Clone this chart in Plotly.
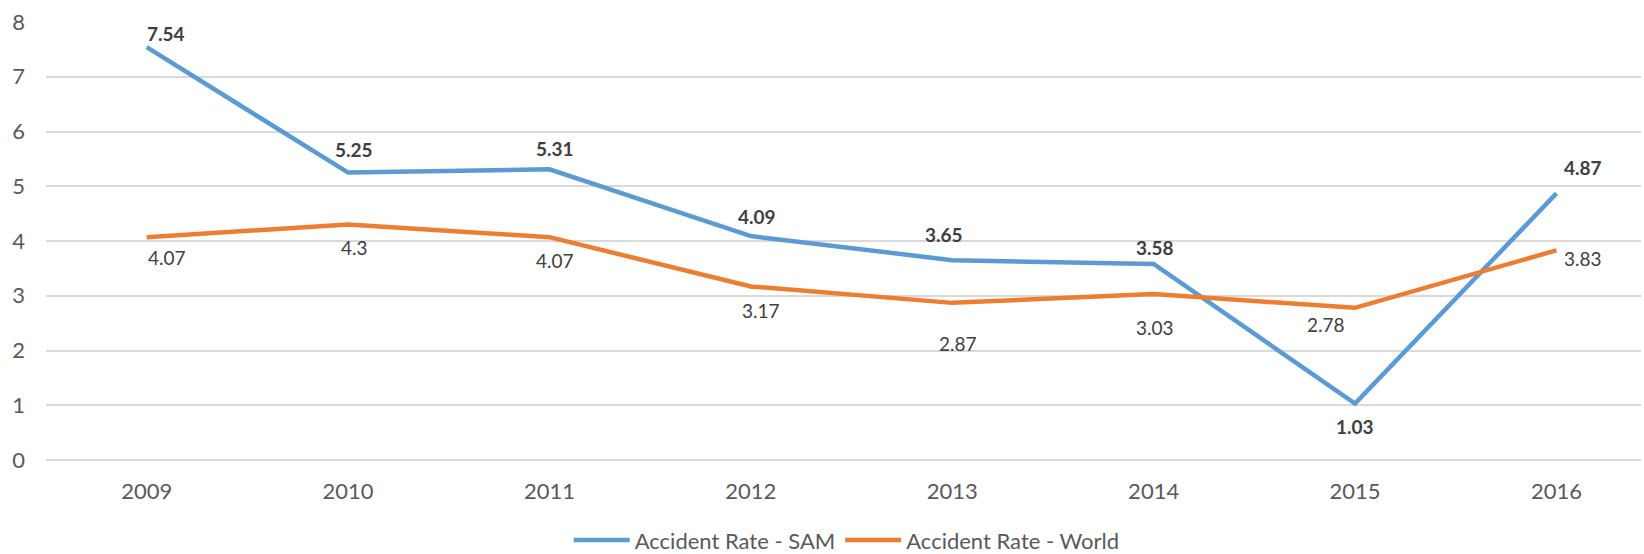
import plotly.graph_objects as go

years = [2009, 2010, 2011, 2012, 2013, 2014, 2015, 2016]
year_labels = ["2009", "2010", "2011", "2012", "2013", "2014", "2015", "2016"]
sam = [7.54, 5.25, 5.31, 4.09, 3.65, 3.58, 1.03, 4.87]
world = [4.07, 4.3, 4.07, 3.17, 2.87, 3.03, 2.78, 3.83]
sam_text = ["7.54", "5.25", "5.31", "4.09", "3.65", "3.58", "1.03", "4.87"]
world_text = ["4.07", "4.3", "4.07", "3.17", "2.87", "3.03", "2.78", "3.83"]

# label offsets in pixels (dx right, dy up) relative to each point
sam_shift = [(19, 14), (6, 23), (6, 21), (6, 20), (-8, 26), (1, 17), (0, -23), (27, 26)]
world_shift = [(20, -20), (6, -23), (6, -23), (10, -24), (6, -41), (1, -33), (-29, -17), (27, -8)]

FONT = "Lato"
BLUE = "#5B9BD5"
ORANGE = "#ED7D31"
LABEL_COLOR = "#404040"

fig = go.Figure()
fig.add_trace(go.Scatter(
    x=years, y=sam, mode="lines", name="Accident Rate - SAM",
    line=dict(color=BLUE, width=4.5),
))
fig.add_trace(go.Scatter(
    x=years, y=world, mode="lines", name="Accident Rate - World",
    line=dict(color=ORANGE, width=4.5),
))

annotations = []
for xv, yv, t, (dx, dy) in zip(years, sam, sam_text, sam_shift):
    annotations.append(dict(x=xv, y=yv, xref="x", yref="y", text="<b>%s</b>" % t,
                            showarrow=False, xshift=dx, yshift=dy,
                            font=dict(family=FONT, size=19, color=LABEL_COLOR)))
for xv, yv, t, (dx, dy) in zip(years, world, world_text, world_shift):
    annotations.append(dict(x=xv, y=yv, xref="x", yref="y", text=t,
                            showarrow=False, xshift=dx, yshift=dy,
                            font=dict(family=FONT, size=19, color=LABEL_COLOR)))

fig.update_layout(
    width=1644, height=554,
    margin=dict(l=46, r=3, t=22, b=94, autoexpand=False),
    paper_bgcolor="white", plot_bgcolor="white",
    font=dict(family=FONT, size=22, color="#595959"),
    showlegend=True,
    annotations=annotations,
    legend=dict(orientation="h", x=0.502, xanchor="center", yref="container",
                y=0.025, yanchor="middle", tracegroupgap=0,
                font=dict(family=FONT, size=22, color="#595959"), itemwidth=56,
                traceorder="normal"),
    xaxis=dict(range=[2008.5, 2016.42], tickvals=years, ticktext=year_labels,
               showgrid=False, zeroline=False, showline=False, ticks="",
               ticklabelstandoff=16, tickfont=dict(size=22)),
    yaxis=dict(range=[0, 8], dtick=1, showgrid=True, gridcolor="#D9D9D9", gridwidth=1.5,
               zeroline=True, zerolinecolor="#D9D9D9", zerolinewidth=1.5,
               showline=False, ticks="", ticklabelstandoff=20,
               tickfont=dict(size=22)),
)
fig.write_html("out.html", config={"displayModeBar": False},
               post_script="document.body.style.margin='0';document.body.style.overflow='hidden';")
